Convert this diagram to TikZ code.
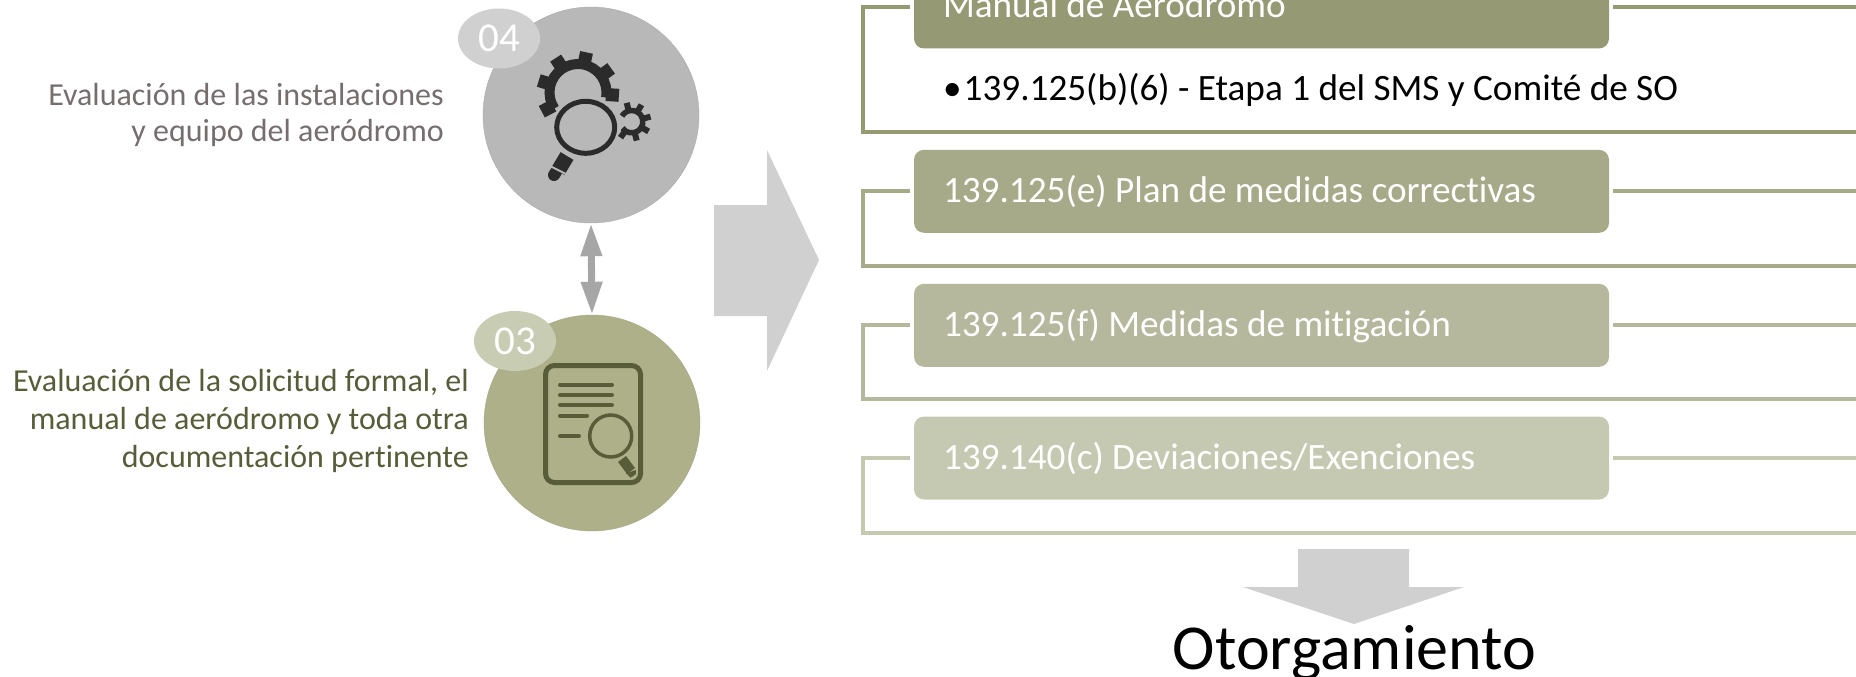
\documentclass[tikz,border=0pt]{standalone}
\usepackage{fontspec}
\setmainfont[Ligatures=CommonOff]{Carlito}
\usepackage{xcolor}
\definecolor{olivea}{HTML}{969A74}
\definecolor{oliveb}{HTML}{A6AA88}
\definecolor{olivec}{HTML}{B5B89C}
\definecolor{olived}{HTML}{C6C9B1}
\definecolor{olivecirc}{HTML}{ADB089}
\definecolor{olivebub}{HTML}{C8CCB2}
\definecolor{olivedark}{HTML}{585C38}
\definecolor{greycirc}{HTML}{B8B8B8}
\definecolor{greybub}{HTML}{D0D0D0}
\definecolor{greydark}{HTML}{2B2B2B}
\definecolor{greyarrow}{HTML}{D0D0D0}
\definecolor{greytext}{HTML}{756D6E}
\tikzset{
  reqbox/.style={rounded corners=10pt,minimum width=695pt,minimum height=83pt,inner sep=0pt,text=white,text width=637pt,align=flush left,text height=22pt,text depth=0pt,font=\fontsize{37.2}{40}\selectfont},
  stepcirc/.style={circle,minimum size=216pt,inner sep=0pt},
  numbub/.style={ellipse,minimum width=82pt,minimum height=60pt,inner sep=0pt,text=white,font=\fontsize{41}{42}\selectfont},
  sidetext/.style={align=right,anchor=base east,inner sep=0pt,font=\fontsize{32}{36}\selectfont},
  bracket/.style={line width=4pt},
}
\usetikzlibrary{shapes.geometric,arrows.meta}
\begin{document}
\begin{tikzpicture}[x=1pt,y=-1pt]
\useasboundingbox (0,0) rectangle (1856,677);

% circles
\node[stepcirc,fill=greycirc,draw=greycirc!93!black] (circfour) at (591,115) {};
\node[stepcirc,fill=olivecirc,draw=olivecirc!95!black] (circthree) at (592,423) {};
\node[numbub,fill=greybub] (bubfour) at (499,38.5) {04};
\node[numbub,fill=olivebub] (bubthree) at (515,341) {03};

% side texts
\node[sidetext,text=greytext] (textfour) at (444,141) {Evaluación de las instalaciones\\y equipo del aeródromo};
\node[sidetext,text=olivedark,font=\fontsize{32}{38}\selectfont] (textthree) at (469,467) {Evaluación de la solicitud formal, el\\manual de aeródromo y toda otra\\documentación pertinente};

% double arrow
\draw[{Triangle[length=33pt,width=20pt]}-{Triangle[length=33pt,width=20pt]},line width=7pt,color=black!35] (circfour.south) -- (circthree.north);

% big arrows
\fill[greyarrow] (714,205) -- (767,205) -- (767,150) -- (819,260) -- (767,371) -- (767,316) -- (714,316) -- cycle;
\fill[greyarrow] (1298,549) -- (1409,549) -- (1409,587) -- (1464,587) -- (1354,624) -- (1243,587) -- (1298,587) -- cycle;

% boxes
\node[reqbox,fill=olivea] (boxa) at (1261.5,7) {Manual de Aeródromo};
\node[reqbox,fill=oliveb] (boxb) at (1261.5,191.3) {139.125(e) Plan de medidas correctivas};
\node[reqbox,fill=olivec] (boxc) at (1261.5,325.3) {139.125(f) Medidas de mitigación};
\node[reqbox,fill=olived] (boxd) at (1261.5,458) {139.140(c) Deviaciones/Exenciones};
\node[anchor=base west,inner sep=0pt,font=\fontsize{37.2}{40}\selectfont] (itema) at (943,100) {•\hspace{2pt}139.125(b)(6) - Etapa 1 del SMS y Comité de SO};

% brackets
\coordinate (enda) at (1856,132);
\coordinate (endb) at (1856,265.5);
\coordinate (endc) at (1856,399);
\coordinate (endd) at (1856,532.5);
\draw[bracket,olivea,shorten <=4pt] (boxa.west) -| (863,132) -- (enda);
\draw[bracket,oliveb,shorten <=4pt] (boxb.west) -| (863,265.5) -- (endb);
\draw[bracket,olivec,shorten <=4pt] (boxc.west) -| (863,399) -- (endc);
\draw[bracket,olived,shorten <=4pt] (boxd.west) -| (863,532.5) -- (endd);
\coordinate (edgea) at (1856,7);
\coordinate (edgeb) at (1856,191.3);
\coordinate (edgec) at (1856,325.3);
\coordinate (edged) at (1856,458);
\draw[bracket,olivea,shorten <=4pt] (boxa.east) -- (edgea);
\draw[bracket,oliveb,shorten <=4pt] (boxb.east) -- (edgeb);
\draw[bracket,olivec,shorten <=4pt] (boxc.east) -- (edgec);
\draw[bracket,olived,shorten <=4pt] (boxd.east) -- (edged);

\node[font=\fontsize{64}{66}\selectfont,anchor=base,inner sep=0pt] (granted) at (1354.5,669) {Otorgamiento};

% gears
\begin{scope}[shift={(578,92.5)},y=1pt]
\draw[greydark,line width=10pt] (-10:28.5) arc (-10:214:28.5);
\foreach \a in {-4,36,78,123,163,208} \fill[greydark,rotate=\a] (28,-6.5) rectangle (41,6.5);
\end{scope}
\begin{scope}[shift={(631.7,121.7)},y=1pt]
\draw[greydark,line width=5.5pt] (-145:11.2) arc (-145:150:11.2);
\foreach \a in {-125,-75,-30,15,60,105} \fill[greydark,rotate=\a] (11,-3) rectangle (19.5,3);
\end{scope}

% lens
\draw[greydark,line width=5pt] (585.7,127.3) ellipse (29 and 26);
\draw[greydark,line width=15pt] (567,156) -- (558,171);
\draw[greydark,line width=12pt,line cap=round] (556,172) -- (554,175);
\draw[greycirc,line width=2pt] (550,166) -- (566,174);

% document
\draw[olivedark,line width=5pt,rounded corners=9pt] (545.5,365.5) rectangle (640.5,482.5);
\foreach \yy/\xx in {385/612,395/612,405/612,415.7/587} \draw[olivedark,line width=4pt,line cap=round] (560,\yy) -- (\xx,\yy);
\draw[olivedark,line width=4pt,line cap=round] (560,436) -- (579,436);
\draw[olivedark,line width=3.5pt] (610.7,436) circle (21);
\draw[olivedark,line width=10pt] (622,459) -- (631,471);
\fill[olivedark] (626,473.3) -- (635.7,470) -- (636,474) -- (630.7,477.7) -- cycle;
\end{tikzpicture}
\end{document}
